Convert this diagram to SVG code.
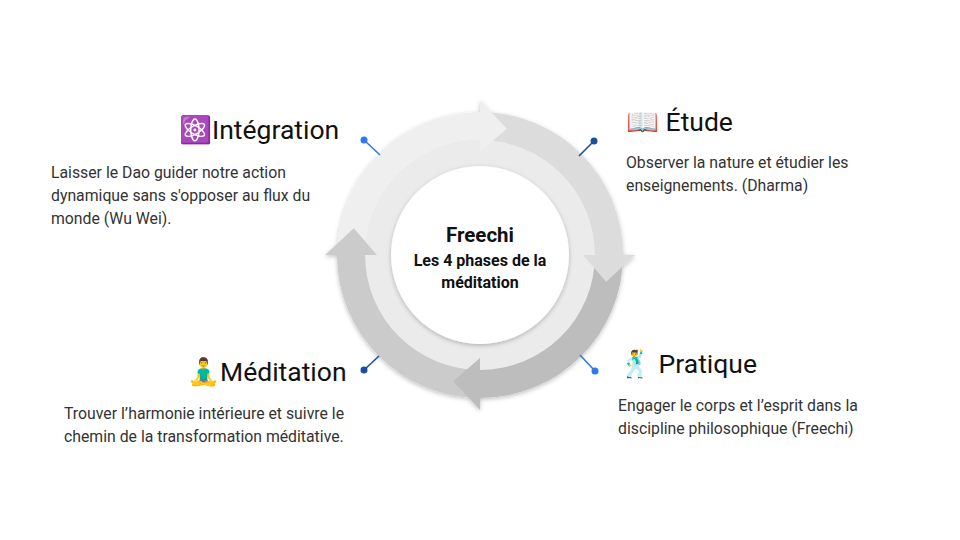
<svg xmlns="http://www.w3.org/2000/svg" width="960" height="540" viewBox="0 0 960 540">
<style>
.t{font-family:Roboto,"Liberation Sans","Noto Color Emoji",sans-serif;font-size:26.5px;fill:#111}
.b{font-family:Roboto,"Liberation Sans",sans-serif;font-size:15.8px;fill:#333}
.c{font-family:Roboto,"Liberation Sans",sans-serif;font-weight:bold;fill:#111;text-anchor:middle}
.ln{stroke-width:1.6}
</style>
<defs>
<filter id="sh" x="-20%" y="-20%" width="140%" height="140%"><feDropShadow dx="0" dy="1.5" stdDeviation="2" flood-opacity="0.25"/></filter>
</defs>
<rect width="960" height="540" fill="#fff"/>
<g id="cycle" filter="url(#sh)">
<circle cx="480" cy="255" r="115" fill="#ebebeb"/>
<circle cx="480" cy="255" r="89" fill="#fff" filter="url(#sh)"/>
<path d="M480,112 A143,143 0 0 1 623,255 L595,255 A115,115 0 0 0 480,140 Z" fill="#dcdcdc"/>
<path d="M623,255 A143,143 0 0 1 480,398 L480,370 A115,115 0 0 0 595,255 Z" fill="#bdbdbd"/>
<path d="M480,398 A143,143 0 0 1 337,255 L365,255 A115,115 0 0 0 480,370 Z" fill="#cbcbcb"/>
<path d="M337,255 A143,143 0 0 1 480,112 L480,140 A115,115 0 0 0 365,255 Z" fill="#efefef"/>
<polygon points="480,152 480,100 506.8,128.8" fill="#efefef"/>
<polygon points="583,255 635,255 606.2,281.8" fill="#dcdcdc"/>
<polygon points="480,358 480,410 453.2,381.2" fill="#bdbdbd"/>
<polygon points="377,255 325,255 353.8,228.2" fill="#cbcbcb"/>
</g>
<g id="center">
<text class="c" x="480" y="242" font-size="20.5">Freechi</text>
<text class="c" x="480" y="266" font-size="16">Les 4 phases de la</text>
<text class="c" x="480" y="288" font-size="16">méditation</text>
</g>
<g id="connectors">
<line class="ln" x1="364" y1="140" x2="380" y2="155" stroke="#2f7ae5"/><circle cx="364" cy="140" r="3.5" fill="#2f7ae5"/>
<line class="ln" x1="594" y1="141" x2="579" y2="156" stroke="#1a4fa0"/><circle cx="594" cy="141" r="3.5" fill="#1a4fa0"/>
<line class="ln" x1="595" y1="371" x2="580" y2="355" stroke="#2f7ae5"/><circle cx="595" cy="371" r="3.5" fill="#2f7ae5"/>
<line class="ln" x1="364" y1="370" x2="379" y2="356" stroke="#1a4fa0"/><circle cx="364" cy="370" r="3.5" fill="#1a4fa0"/>
</g>
<g id="integration">
<text class="t" x="179" y="139">⚛️Intégration</text>
<text class="b" x="51" y="178">Laisser le Dao guider notre action</text>
<text class="b" x="51" y="201">dynamique sans s'opposer au flux du</text>
<text class="b" x="51" y="224">monde (Wu Wei).</text>
</g>
<g id="etude">
<text class="t" x="626" y="131">📖 Étude</text>
<text class="b" x="626" y="168">Observer la nature et étudier les</text>
<text class="b" x="626" y="191">enseignements. (Dharma)</text>
</g>
<g id="pratique">
<text class="t" x="619" y="373">🕺 Pratique</text>
<text class="b" x="618" y="411">Engager le corps et l’esprit dans la</text>
<text class="b" x="618" y="434">discipline philosophique (Freechi)</text>
</g>
<g id="meditation">
<text class="t" x="187" y="381">🧘‍♂️Méditation</text>
<text class="b" x="64" y="419">Trouver l’harmonie intérieure et suivre le</text>
<text class="b" x="64" y="442">chemin de la transformation méditative.</text>
</g>
</svg>
